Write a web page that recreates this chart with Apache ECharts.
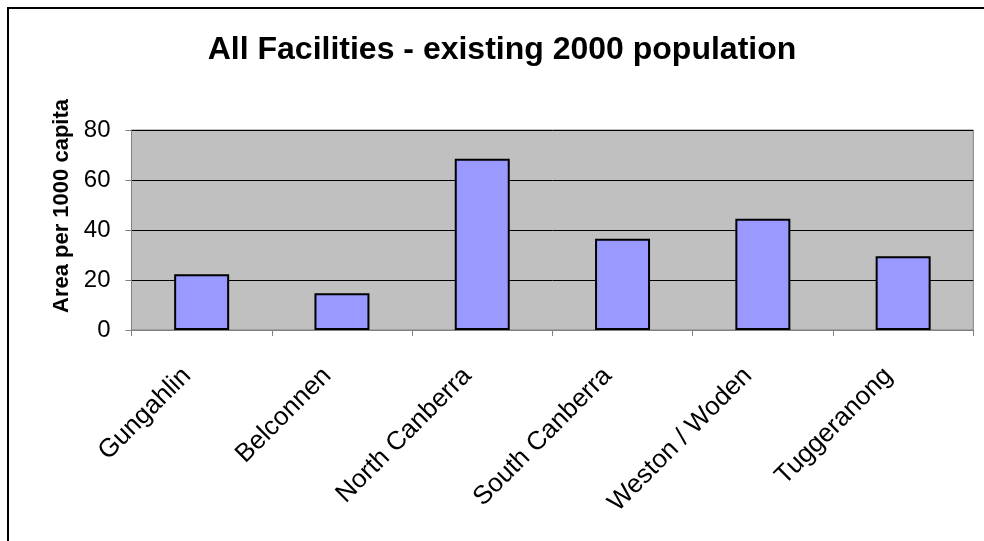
<!DOCTYPE html>
<html>
<head>
<meta charset="utf-8">
<script src="https://cdn.jsdelivr.net/npm/echarts@6/dist/echarts.min.js"></script>
<style>
  html, body { margin: 0; padding: 0; background: #ffffff; }
  #chart { width: 984px; height: 541px; }
</style>
</head>
<body>
<div id="chart"></div>
<script>
// Regions and their facility area per 1000 capita
const categories = ['Gungahlin', 'Belconnen', 'North Canberra', 'South Canberra', 'Weston / Woden', 'Tuggeranong'];
const areaPerCapita = [22.3, 14.7, 68.5, 36.5, 44.5, 29.5];
const yTicks = [0, 20, 40, 60, 80];

const FONT = '"Liberation Sans", Arial, Helvetica, sans-serif';

const chart = echarts.init(document.getElementById('chart'), null, { renderer: 'canvas' });

chart.setOption({
  animation: false,
  backgroundColor: '#ffffff',
  graphic: [
    {
      type: 'rect',
      silent: true,
      shape: { x: 8, y: 8, width: 1000, height: 560 },
      style: { fill: 'none', stroke: '#000000', lineWidth: 2 }
    },
    {
      type: 'text',
      silent: true,
      x: 502, y: 50,
      style: {
        text: 'All Facilities - existing 2000 population',
        font: 'bold 32px ' + FONT,
        fill: '#000000',
        align: 'center',
        verticalAlign: 'middle'
      }
    },
    {
      type: 'text',
      silent: true,
      x: 62, y: 206,
      rotation: Math.PI / 2,
      style: {
        text: 'Area per 1000 capita',
        font: 'bold 22px ' + FONT,
        fill: '#000000',
        align: 'center',
        verticalAlign: 'middle'
      }
    }
  ],
  grid: {
    left: 131.5,
    right: 10.7,
    top: 130,
    bottom: 211,
    show: true,
    backgroundColor: '#C0C0C0',
    borderColor: '#808080',
    borderWidth: 1
  },
  xAxis: {
    type: 'category',
    data: categories,
    boundaryGap: true,
    axisLine: { show: true, lineStyle: { color: '#808080', width: 1 } },
    axisTick: { show: true, inside: false, length: 6, alignWithLabel: false, lineStyle: { color: '#808080' } },
    axisLabel: {
      rotate: 45,
      margin: 27,
      interval: 0,
      color: '#000000',
      fontFamily: FONT,
      fontSize: 26,
      padding: [0, 21, 29, 0]
    },
    splitLine: { show: false }
  },
  yAxis: {
    type: 'value',
    min: yTicks[0],
    max: yTicks[yTicks.length - 1],
    interval: 20,
    axisLine: { show: true, lineStyle: { color: '#808080', width: 1 } },
    axisTick: { show: true, inside: false, length: 6, lineStyle: { color: '#808080' } },
    axisLabel: {
      margin: 21,
      color: '#000000',
      fontFamily: FONT,
      fontSize: 24
    },
    splitLine: { show: true, lineStyle: { color: '#000000', width: 1 } }
  },
  series: [
    {
      type: 'bar',
      data: areaPerCapita,
      barWidth: 55,
      itemStyle: {
        color: '#9999FF',
        borderColor: '#000000',
        borderWidth: 2
      }
    }
  ]
});
</script>
</body>
</html>
